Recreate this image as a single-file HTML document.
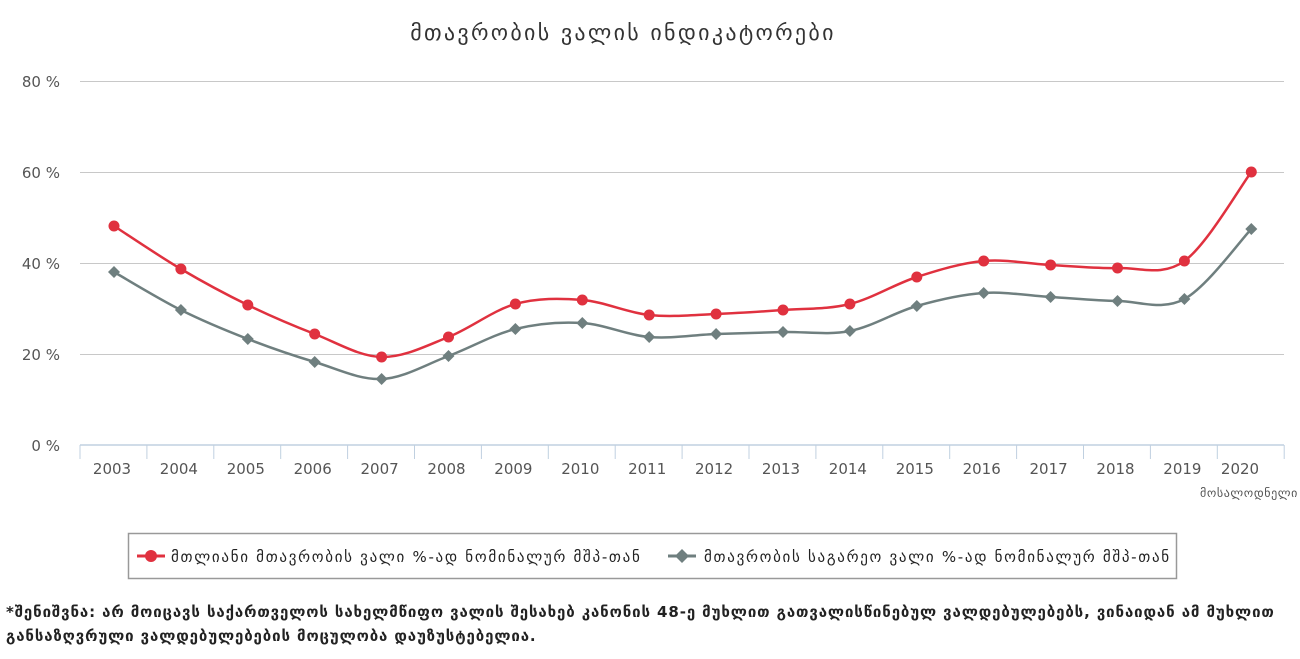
<!DOCTYPE html>
<html><head><meta charset="utf-8"><style>
html,body{margin:0;padding:0;background:#fff;width:1300px;height:659px;overflow:hidden}
svg text{font-family:"DejaVu Sans","Liberation Sans",sans-serif}
.note{position:absolute;left:6px;top:600px;font-family:"DejaVu Sans","Liberation Sans",sans-serif;font-size:15px;font-weight:bold;color:#222;line-height:24px;width:1295px;letter-spacing:0.9px}
</style></head><body>
<svg id="c" width="1300" height="659" xmlns="http://www.w3.org/2000/svg" style="position:absolute;left:0;top:0">
<text x="623" y="40" text-anchor="middle" font-size="22" fill="#333" letter-spacing="2.3">მთავრობის ვალის ინდიკატორები</text>
<g stroke="#c8c8c8" stroke-width="1">
<line x1="80" x2="1284" y1="81.5" y2="81.5"/><line x1="80" x2="1284" y1="172.5" y2="172.5"/>
<line x1="80" x2="1284" y1="263.5" y2="263.5"/><line x1="80" x2="1284" y1="354.5" y2="354.5"/>
</g>
<line x1="80" x2="1284" y1="445" y2="445" stroke="#c0d0e0" stroke-width="1.5"/>
<g font-size="15" fill="#555" text-anchor="end">
<text x="60" y="87">80 %</text><text x="60" y="178">60 %</text><text x="60" y="269">40 %</text><text x="60" y="360">20 %</text><text x="60" y="451">0 %</text>
</g>
<g id="ticks" stroke="#c0d0e0" stroke-width="1"></g>
<g id="lbl" font-size="15" fill="#555" text-anchor="middle"></g>
<text x="1298" y="497" text-anchor="end" font-size="12" fill="#555" letter-spacing="0.6">მოსალოდნელი</text>
<path id="pg" fill="none" stroke="#6f7f7f" stroke-width="2.5"/>
<path id="pr" fill="none" stroke="#e0313f" stroke-width="2.5"/>
<g id="mk"></g>
<rect x="128.5" y="533.5" width="1048" height="45" fill="#fff" stroke="#999" stroke-width="1.5"/>
<line x1="137" x2="165" y1="556" y2="556" stroke="#e0313f" stroke-width="3"/>
<circle cx="151" cy="556" r="6" fill="#e0313f"/>
<text x="171" y="562" font-size="15" fill="#222" letter-spacing="1.7">მთლიანი მთავრობის ვალი %-ად ნომინალურ მშპ-თან</text>
<line x1="668" x2="696" y1="556" y2="556" stroke="#6f7f7f" stroke-width="3"/>
<path d="M682 549 L689 556 L682 563 L675 556Z" fill="#6f7f7f"/>
<text x="704" y="562" font-size="15" fill="#222" letter-spacing="1.7">მთავრობის საგარეო ვალი %-ად ნომინალურ მშპ-თან</text>
</svg>
<div class="note">*შენიშვნა: არ მოიცავს საქართველოს სახელმწიფო ვალის შესახებ კანონის 48-ე მუხლით გათვალისწინებულ ვალდებულებებს, ვინაიდან ამ მუხლით<br>განსაზღვრული ვალდებულებების მოცულობა დაუზუსტებელია.</div>
<script>
var NS="http://www.w3.org/2000/svg";
var red=[226,269,305,334,357,337,304,300,315,314,310,304,277,261,265,268,261,172];
var gr=[272,310,339,362,379,356,329,323,337,334,332,331,306,293,297,301,299,229];
var sp=66.9;function X(i){return 114+i*sp;}
var t=document.getElementById('ticks'),l=document.getElementById('lbl'),m=document.getElementById('mk');
for(var i=0;i<=18;i++){var ln=document.createElementNS(NS,'line');var x=80+i*sp;ln.setAttribute('x1',x);ln.setAttribute('x2',x);ln.setAttribute('y1',445);ln.setAttribute('y2',459);t.appendChild(ln);}
for(var i=0;i<18;i++){var tx=document.createElementNS(NS,'text');tx.setAttribute('x',i==17?1240:X(i)-2);tx.setAttribute('y',474);tx.textContent=2003+i;l.appendChild(tx);}
function path(d){var s="M"+X(0)+" "+d[0];for(var i=0;i<d.length-1;i++){var p0=i>0?i-1:i,p3=i+2<d.length?i+2:i+1;
var c1x=X(i)+(X(i+1)-X(p0))/6,c1y=d[i]+(d[i+1]-d[p0])/6,c2x=X(i+1)-(X(p3)-X(i))/6,c2y=d[i+1]-(d[p3]-d[i])/6;
s+=" C"+c1x+" "+c1y+" "+c2x+" "+c2y+" "+X(i+1)+" "+d[i+1];}return s;}
document.getElementById('pr').setAttribute('d',path(red));document.getElementById('pg').setAttribute('d',path(gr));
for(var i=0;i<18;i++){var p=document.createElementNS(NS,'path');var x=X(i),y=gr[i];p.setAttribute('d','M'+x+' '+(y-6)+'L'+(x+6)+' '+y+'L'+x+' '+(y+6)+'L'+(x-6)+' '+y+'Z');p.setAttribute('fill','#6f7f7f');m.appendChild(p);
var c=document.createElementNS(NS,'circle');c.setAttribute('cx',x);c.setAttribute('cy',red[i]);c.setAttribute('r',5.5);c.setAttribute('fill','#e0313f');m.appendChild(c);}
</script>
</body></html>
